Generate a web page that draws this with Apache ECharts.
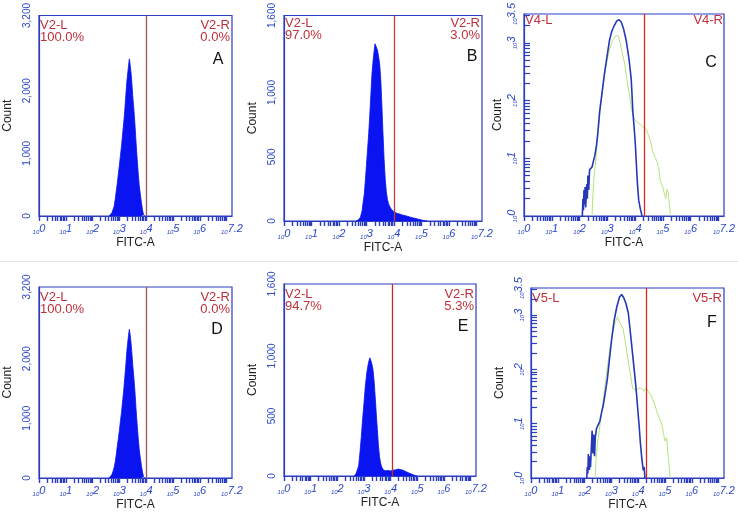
<!DOCTYPE html>
<html>
<head>
<meta charset="utf-8">
<script src="https://cdn.jsdelivr.net/npm/echarts@6/dist/echarts.min.js"></script>
<style>
	html, body { margin: 0; padding: 0; background: #fff; }
	#chart { width: 738px; height: 512px; }
</style>
</head>
<body>
<div id="chart"></div>
<script>
	// x values are log10(FITC-A)
	var aDecade = [2.62, 2.68, 2.72, 2.76, 2.80, 2.84, 2.88, 2.92, 2.96, 3.00, 3.04, 3.08, 3.12, 3.16, 3.20, 3.24, 3.28, 3.31, 3.34, 3.37, 3.40, 3.43, 3.46, 3.50, 3.54, 3.58, 3.62, 3.66, 3.70, 3.74, 3.78, 3.82, 3.86, 3.90, 3.94];
	var aCount = [0, 20, 50, 100, 150, 254, 390, 519, 670, 820, 970, 1125, 1310, 1490, 1690, 1930, 2160, 2280, 2400, 2508, 2420, 2300, 2150, 1900, 1700, 1460, 1180, 930, 690, 490, 350, 220, 100, 20, 0];

	var bDecade = [2.62, 2.70, 2.78, 2.84, 2.88, 2.92, 2.96, 3.00, 3.04, 3.08, 3.12, 3.16, 3.20, 3.24, 3.28, 3.31, 3.34, 3.37, 3.40, 3.44, 3.48, 3.52, 3.56, 3.60, 3.64, 3.68, 3.72, 3.76, 3.80, 3.85, 3.90, 4.00, 4.10, 4.20, 4.30, 4.40, 4.50, 4.60, 4.70, 4.80, 4.90, 5.00, 5.10, 5.20];
	var bCount = [0, 8, 30, 80, 150, 210, 320, 440, 560, 680, 830, 990, 1150, 1250, 1330, 1380, 1395, 1370, 1330, 1280, 1220, 1100, 900, 680, 480, 330, 230, 170, 135, 110, 92, 72, 60, 55, 47, 42, 36, 30, 24, 19, 13, 8, 3, 0];

	var dDecade = [2.62, 2.68, 2.72, 2.76, 2.80, 2.84, 2.88, 2.92, 2.96, 3.00, 3.04, 3.08, 3.12, 3.16, 3.20, 3.24, 3.28, 3.31, 3.34, 3.37, 3.40, 3.43, 3.46, 3.50, 3.54, 3.58, 3.62, 3.66, 3.70, 3.74, 3.78, 3.82, 3.86, 3.90, 3.94];
	var dCount = [0, 25, 60, 110, 170, 260, 380, 530, 660, 800, 960, 1110, 1290, 1470, 1680, 1900, 2140, 2270, 2390, 2490, 2400, 2280, 2120, 1880, 1680, 1440, 1160, 910, 680, 480, 340, 210, 100, 25, 0];

	var eDecade = [2.64, 2.70, 2.75, 2.80, 2.85, 2.90, 2.95, 3.00, 3.05, 3.10, 3.14, 3.18, 3.22, 3.26, 3.30, 3.34, 3.38, 3.42, 3.46, 3.50, 3.54, 3.58, 3.62, 3.66, 3.72, 3.80, 3.90, 4.00, 4.10, 4.20, 4.28, 4.36, 4.44, 4.52, 4.60, 4.68, 4.76, 4.84, 4.92, 5.00];
	var eCount = [0, 20, 50, 85, 200, 330, 480, 610, 750, 850, 910, 955, 985, 960, 930, 880, 790, 660, 520, 390, 260, 165, 110, 78, 52, 44, 46, 42, 48, 52, 58, 54, 50, 42, 34, 26, 18, 10, 4, 0];

	// log panels: y values are log10(count)
	var cBlueX = [2.10, 2.12, 2.14, 2.16, 2.18, 2.20, 2.22, 2.24, 2.26, 2.28, 2.30, 2.33, 2.36, 2.40, 2.45, 2.50, 2.55, 2.61, 2.66, 2.72, 2.80, 2.90, 3.00, 3.08, 3.16, 3.25, 3.34, 3.42, 3.50, 3.58, 3.68, 3.78, 3.86, 3.92, 3.97, 4.01, 4.04, 4.07, 4.10, 4.13, 4.16, 4.19, 4.22, 4.25];
	var cBlueY = [0, 0.3, 0.1, 0.45, 0.2, 0.5, 0.15, 0.35, 0.55, 0.3, 0.7, 0.45, 0.8, 0.78, 0.85, 0.95, 1.05, 1.23, 1.45, 1.80, 2.10, 2.48, 2.80, 3.05, 3.20, 3.30, 3.38, 3.40, 3.36, 3.25, 3.04, 2.72, 2.37, 1.80, 1.50, 1.23, 0.95, 0.67, 0.45, 0.27, 0.30, 0.12, 0.15, 0];
	var cGreenX = [2.45, 2.48, 2.52, 2.58, 2.66, 2.76, 2.88, 3.00, 3.10, 3.20, 3.30, 3.38, 3.46, 3.54, 3.62, 3.70, 3.80, 3.88, 3.94, 4.00, 4.08, 4.16, 4.24, 4.32, 4.40, 4.48, 4.56, 4.63, 4.68, 4.73, 4.78, 4.85, 4.90, 4.95, 5.00, 5.05, 5.10, 5.15, 5.19, 5.23, 5.27];
	var cGreenY = [0, 0.35, 0.67, 0.95, 1.40, 1.90, 2.38, 2.72, 2.92, 3.05, 3.12, 3.13, 3.00, 2.82, 2.65, 2.38, 2.08, 1.82, 1.72, 1.66, 1.62, 1.60, 1.56, 1.52, 1.50, 1.40, 1.28, 1.12, 1.10, 1.01, 0.95, 0.84, 0.62, 0.55, 0.50, 0.39, 0.30, 0.46, 0.40, 0.22, 0];

	var fBlueX = [2.08, 2.10, 2.12, 2.14, 2.16, 2.18, 2.20, 2.22, 2.25, 2.28, 2.31, 2.34, 2.37, 2.40, 2.44, 2.48, 2.53, 2.57, 2.63, 2.70, 2.78, 2.85, 2.93, 3.01, 3.10, 3.20, 3.30, 3.38, 3.46, 3.54, 3.63, 3.72, 3.82, 3.88, 3.94, 3.99, 4.04, 4.08, 4.13, 4.16, 4.19, 4.22, 4.25];
	var fBlueY = [0, 0.2, 0.08, 0.44, 0.25, 0.15, 0.4, 0.2, 0.55, 0.87, 0.45, 0.8, 0.4, 0.75, 0.9, 0.95, 1.0, 1.05, 1.20, 1.35, 1.60, 1.83, 2.20, 2.56, 2.90, 3.15, 3.33, 3.38, 3.32, 3.22, 3.04, 2.62, 2.14, 1.85, 1.53, 1.22, 0.93, 0.65, 0.38, 0.25, 0.14, 0.2, 0];
	var fGreenX = [2.39, 2.42, 2.46, 2.51, 2.58, 2.66, 2.75, 2.85, 2.95, 3.05, 3.15, 3.22, 3.26, 3.32, 3.38, 3.44, 3.52, 3.63, 3.72, 3.79, 3.86, 3.94, 4.03, 4.13, 4.22, 4.30, 4.34, 4.42, 4.50, 4.60, 4.69, 4.78, 4.88, 4.94, 5.00, 5.06, 5.12, 5.16, 5.19];
	var fGreenY = [0, 0.3, 0.55, 0.74, 1.0, 1.3, 1.65, 2.05, 2.40, 2.68, 2.88, 2.96, 2.98, 2.85, 2.80, 2.74, 2.50, 2.14, 1.88, 1.65, 1.62, 1.62, 1.66, 1.65, 1.60, 1.66, 1.62, 1.56, 1.50, 1.38, 1.23, 1.12, 0.99, 0.82, 0.68, 0.74, 0.38, 0.20, 0];

	// gates and their texts
	var gateX = [4.0, 4.0, 4.33, 4.0, 4.05, 4.29];
	var gateLeft = ['V2-L', 'V2-L', 'V4-L', 'V2-L', 'V2-L', 'V5-L'];
	var gateRight = ['V2-R', 'V2-R', 'V4-R', 'V2-R', 'V2-R', 'V5-R'];
	var pctLeft = ['100.0%', '97.0%', '', '100.0%', '94.7%', ''];
	var pctRight = ['0.0%', '3.0%', '', '0.0%', '5.3%', ''];
	var panelLetters = ['A', 'B', 'C', 'D', 'E', 'F'];

	// tick labels
	var xLabelVals = [0, 1, 2, 3, 4, 5, 6, 7.2];
	var yLinTicks3200 = [0, 1000, 2000, 3200];
	var yLinTicks1600 = [0, 500, 1000, 1600];
	var yLogLabelVals = [0, 1, 2, 3, 3.5];

	var FONT = '"Liberation Sans", Arial, sans-serif';
	var AXIS_BLUE = '#2b3dc0';
	var LABEL_BLUE = '#2a46c8';
	var TEXT_RED = '#c0303a';
	var GATE_RED = ['#a8564a', '#c83c3c', '#d42a1e', '#a8564a', '#cc2a2a', '#d42a1e'];
	var HIST_BLUE = '#0a14f0';

	var grids = [
		{ left: 39, top: 15, width: 193, height: 201 },
		{ left: 284, top: 13, width: 198, height: 208 },
		{ left: 524, top: 10, width: 201, height: 206 },
		{ left: 39, top: 287, width: 193, height: 191 },
		{ left: 284, top: 284, width: 192, height: 192 },
		{ left: 531, top: 288, width: 193, height: 193 }
	];
	var letterPos = [[218, 60], [472, 57], [711, 63], [217, 330], [463, 327], [712, 323]];

	// log-spaced minor ticks
	var xMinor = [];
	for (var d = 0; d < 8; d++) {
		for (var k = 1; k < 10; k++) {
			var v = d + Math.log10(k);
			if (v <= 7.2) xMinor.push(v);
		}
	}
	var yLogMinor = [];
	for (var d2 = 0; d2 < 4; d2++) {
		for (var k2 = 1; k2 < 10; k2++) {
			var v2 = d2 + Math.log10(k2);
			if (v2 <= 3.5) yLogMinor.push(v2);
		}
	}

	function zip(xs, ys) {
		var out = [];
		for (var i = 0; i < xs.length; i++) out.push([xs[i], ys[i]]);
		return out;
	}

	function powLabel(v) {
		var e = Math.abs(v - Math.round(v)) < 1e-6 ? String(Math.round(v)) : String(v);
		return '{a|10}{b|' + e + '}';
	}

	var powRich = {
		a: { fontSize: 6, color: LABEL_BLUE, fontFamily: FONT, fontStyle: 'italic', padding: [5, 0, 0, 0] },
		b: { fontSize: 11, color: LABEL_BLUE, fontFamily: FONT, fontStyle: 'italic', padding: [0, 0, 3, 0] }
	};

	var xAxes = [], yAxes = [], series = [], graphics = [];

	for (var i = 0; i < 6; i++) {
		var isLog = (i === 2 || i === 5);
		xAxes.push({
			type: 'value', gridIndex: i, min: 0, max: 7.2,
			name: 'FITC-A', nameLocation: 'middle', nameGap: 21,
			nameTextStyle: { color: '#222', fontSize: 12, fontFamily: FONT },
			axisLine: { show: true, lineStyle: { color: AXIS_BLUE, width: 1.2 } },
			axisTick: { show: true, length: 5, customValues: xMinor, lineStyle: { color: AXIS_BLUE, width: 1.4 } },
			axisLabel: { customValues: xLabelVals, margin: 7, formatter: powLabel, rich: powRich },
			splitLine: { show: false }
		});

		var yAx = {
			type: 'value', gridIndex: i, min: 0,
			name: 'Count', nameLocation: 'middle', nameGap: 25, nameRotate: 90,
			nameTextStyle: { color: '#222', fontSize: 12, fontFamily: FONT },
			axisLine: { show: true, lineStyle: { color: AXIS_BLUE, width: 1.2 } },
			splitLine: { show: false }
		};
		if (isLog) {
			yAx.max = 3.5;
			yAx.nameGap = i === 2 ? 20 : 25;
			yAx.axisTick = { show: true, inside: true, length: 6, customValues: yLogMinor, lineStyle: { color: AXIS_BLUE, width: 1.2 } };
			yAx.axisLabel = { customValues: yLogLabelVals, rotate: 90, margin: 4, formatter: powLabel, rich: powRich };
		} else {
			var big = (i === 0 || i === 3);
			yAx.max = big ? 3200 : 1600;
			yAx.axisTick = { show: false };
			yAx.axisLabel = {
				customValues: big ? yLinTicks3200 : yLinTicks1600, rotate: 90, margin: 7,
				color: LABEL_BLUE, fontSize: 10, fontFamily: FONT,
				formatter: function (v) { return v.toLocaleString('en-US'); }
			};
		}
		yAxes.push(yAx);

		var gateLine = {
			silent: true, symbol: 'none', label: { show: false },
			lineStyle: { color: GATE_RED[i], width: 1.3, type: 'solid' },
			data: [{ xAxis: gateX[i] }]
		};

		if (isLog) {
			var gx = i === 2 ? cGreenX : fGreenX, gy = i === 2 ? cGreenY : fGreenY;
			var bx = i === 2 ? cBlueX : fBlueX, by = i === 2 ? cBlueY : fBlueY;
			series.push({
				type: 'line', xAxisIndex: i, yAxisIndex: i, data: zip(gx, gy),
				showSymbol: false, silent: true, lineStyle: { color: '#b6e27c', width: 1 }
			});
			series.push({
				type: 'line', xAxisIndex: i, yAxisIndex: i, data: zip(bx, by),
				showSymbol: false, silent: true, lineStyle: { color: '#2438b8', width: 1.6 },
				markLine: gateLine
			});
		} else {
			var hx = [aDecade, bDecade, null, dDecade, eDecade][i];
			var hy = [aCount, bCount, null, dCount, eCount][i];
			series.push({
				type: 'line', xAxisIndex: i, yAxisIndex: i, data: zip(hx, hy),
				showSymbol: false, silent: true,
				lineStyle: { color: HIST_BLUE, width: 0.8 },
				areaStyle: { color: HIST_BLUE, opacity: 1 },
				markLine: gateLine
			});
		}

		// gate texts
		var g = grids[i];
		var rightGap = 738 - (g.left + g.width) + 2;
		graphics.push({ type: 'text', left: g.left + 1, top: g.top + 4,
			style: { text: gateLeft[i], fill: TEXT_RED, font: '13px ' + FONT } });
		if (pctLeft[i]) {
			graphics.push({ type: 'text', left: g.left + 1, top: g.top + 16,
				style: { text: pctLeft[i], fill: TEXT_RED, font: '13px ' + FONT } });
		}
		graphics.push({ type: 'text', right: rightGap, top: g.top + 4,
			style: { text: gateRight[i], fill: TEXT_RED, font: '13px ' + FONT } });
		if (pctRight[i]) {
			graphics.push({ type: 'text', right: rightGap, top: g.top + 16,
				style: { text: pctRight[i], fill: TEXT_RED, font: '13px ' + FONT } });
		}
		graphics.push({ type: 'text', x: letterPos[i][0], y: letterPos[i][1],
			style: { text: panelLetters[i], fill: '#111', font: '16px ' + FONT, align: 'center', verticalAlign: 'middle' } });
	}

	// faint row separator
	graphics.push({ type: 'rect', shape: { x: 0, y: 261, width: 738, height: 1 }, style: { fill: '#e4e4e4' } });

	var myChart = echarts.init(document.getElementById('chart'), null, { renderer: 'canvas' });
	myChart.setOption({
		animation: false,
		backgroundColor: '#fff',
		grid: grids.map(function (g) {
			return { left: g.left, top: g.top, width: g.width, height: g.height, show: true, borderColor: AXIS_BLUE, borderWidth: 1.2, backgroundColor: 'transparent' };
		}),
		xAxis: xAxes,
		yAxis: yAxes,
		series: series,
		graphic: graphics
	});
</script>
</body>
</html>
